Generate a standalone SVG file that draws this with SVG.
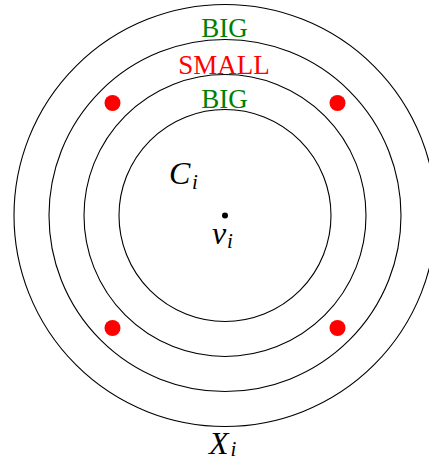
<svg xmlns="http://www.w3.org/2000/svg" width="429" height="461" viewBox="0 0 429 461">
<style>
.ring{fill:none;stroke:#000;stroke-width:1.1}
.dot{fill:#ff0000}
.lbl{font-family:"Liberation Serif","DejaVu Serif",serif;font-size:27px;text-anchor:middle}
.g{fill:#007f00}
.r{fill:#ff0000}
.m{font-family:"Liberation Serif","DejaVu Serif",serif;font-style:italic;fill:#000}
</style>
<rect width="429" height="461" fill="#fff"/>
<g id="rings">
<circle class="ring" cx="225" cy="215.5" r="106"/>
<circle class="ring" cx="225" cy="215.5" r="141"/>
<circle class="ring" cx="225" cy="215.5" r="176"/>
<circle class="ring" cx="225" cy="215.5" r="211"/>
</g>
<g id="points">
<circle class="dot" cx="112.5" cy="103" r="8"/>
<circle class="dot" cx="337.5" cy="103" r="8"/>
<circle class="dot" cx="112.5" cy="328" r="8"/>
<circle class="dot" cx="337.5" cy="328" r="8"/>
<circle cx="225" cy="215.5" r="3" fill="#000"/>
</g>
<g id="labels">
<text class="lbl g" x="224.5" y="37">BIG</text>
<text class="lbl r" x="224" y="74">SMALL</text>
<text class="lbl g" x="224.5" y="108.3">BIG</text>
<text class="m" x="169" y="184.3" font-size="32">C<tspan x="192" y="188.5" font-size="21">i</tspan></text>
<text class="m" x="212" y="244" font-size="32">v<tspan x="227" y="248" font-size="21">i</tspan></text>
<text class="m" x="209" y="454" font-size="32">X<tspan x="230.5" y="456" font-size="21">i</tspan></text>
</g>
</svg>
